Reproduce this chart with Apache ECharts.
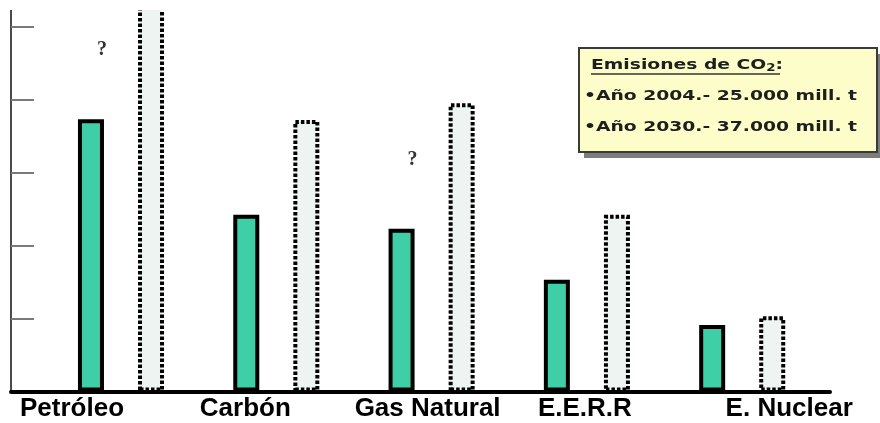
<!DOCTYPE html>
<html>
<head>
<meta charset="utf-8">
<script src="https://cdn.jsdelivr.net/npm/echarts@6/dist/echarts.min.js"></script>
<style>html,body{margin:0;padding:0;background:#fff}#c{width:880px;height:423px}</style>
</head>
<body>
<div id="c"></div>
<script>
// ---- data ----
const categories = ['Petróleo', 'Carbón', 'Gas Natural', 'E.E.R.R', 'E. Nuclear'];
const values2004 = [3.73, 2.42, 2.23, 1.53, 0.91];
const values2030 = [5.5, 3.72, 3.95, 2.42, 1.03];
const questionMarks = ['?', '', '?', '', ''];
const yTicks = [1, 2, 3, 4, 5];
const yMax = 5.226;
const legendTitle = 'Emisiones de CO';
const legendTitleSub = '2';
const legendTitleEnd = ':';
const legendLines = ['•Año 2004.- 25.000 mill. t', '•Año 2030.- 37.000 mill. t'];

// ---- layout helpers ----
const labelShift = [-49, -31, -4, -2, 47];
const rich = {};
labelShift.forEach((d, i) => {
  rich['l' + i] = { padding: d < 0 ? [0, -2 * d, 0, 0] : [0, 0, 0, 2 * d] };
});

const legendFont = 'bold 14px "DejaVu Sans"';
const cv = document.createElement('canvas').getContext('2d');
cv.font = legendFont;
const lineW = cv.measureText(legendLines[0]).width;
const sx = 273 / lineW;

const chart = echarts.init(document.getElementById('c'), null, { renderer: 'canvas' });

const option = {
  animation: false,
  backgroundColor: '#ffffff',
  grid: [
    { left: 43.35, right: 60.15, top: 10, bottom: 31.5 },
    { left: 11, right: 50, top: 10, bottom: 31.5 }
  ],
  xAxis: [
    {
      type: 'category', gridIndex: 0, data: categories,
      axisLine: { show: false }, axisTick: { show: false },
      axisLabel: {
        interval: 0, margin: 4,
        fontFamily: '"Liberation Sans", Arial, sans-serif', fontWeight: 'bold', fontSize: 26, color: '#000',
        formatter: (v, i) => '{l' + i + '|' + v + '}',
        rich: rich
      }
    },
    {
      type: 'value', gridIndex: 1, min: 0, max: 1,
      axisLine: { show: true, lineStyle: { color: '#000', width: 4 } },
      axisTick: { show: false }, axisLabel: { show: false }, splitLine: { show: false }
    }
  ],
  yAxis: [
    { type: 'value', gridIndex: 0, min: 0, max: yMax, show: false, splitLine: { show: false } },
    {
      type: 'value', gridIndex: 1, min: 0, max: yMax,
      axisLine: { show: true, lineStyle: { color: '#4a4a4a', width: 2 } },
      axisTick: { show: true, inside: true, length: 23, customValues: yTicks, lineStyle: { color: '#7a7a7a', width: 2 } },
      axisLabel: { show: false }, splitLine: { show: false }
    }
  ],
  series: [
    {
      type: 'bar', xAxisIndex: 0, yAxisIndex: 0,
      barWidth: 26, barGap: '131%',
      data: values2004,
      itemStyle: { color: '#3fcfa6', borderColor: '#000', borderWidth: 4 },
      label: {
        show: true, position: 'top', offset: [11, -54],
        formatter: p => questionMarks[p.dataIndex],
        fontFamily: '"Liberation Serif", "DejaVu Serif", serif', fontWeight: 'bold', fontSize: 20, color: '#333'
      }
    },
    {
      type: 'bar', xAxisIndex: 0, yAxisIndex: 0,
      barWidth: 26, clip: false,
      data: values2030,
      itemStyle: { color: '#eef4f1', borderColor: '#000', borderWidth: 4, borderType: [3.5, 2] }
    }
  ],
  graphic: [
    { type: 'rect', z: 100, shape: { x: 0, y: 0, width: 880, height: 10 }, style: { fill: '#fff' } },
    { type: 'rect', z: 100, shape: { x: 584, y: 54, width: 298, height: 104 }, style: { fill: '#7d7d7d' } },
    { type: 'rect', z: 101, shape: { x: 579, y: 48, width: 298, height: 104 }, style: { fill: '#fdfdc9', stroke: '#3a3a3a', lineWidth: 2 } },
    {
      type: 'text', z: 102, x: 591, y: 65, scaleX: sx,
      style: {
        text: legendTitle + '{sub|' + legendTitleSub + '}' + legendTitleEnd,
        font: legendFont, fill: '#1e1e1e', verticalAlign: 'middle',
        rich: { sub: { fontSize: 10, fontWeight: 'bold', fontFamily: 'DejaVu Sans', padding: [6, 0, 0, 0], fill: '#1e1e1e' } }
      }
    },
    { type: 'line', z: 102, shape: { x1: 591, y1: 74, x2: 780, y2: 74 }, style: { stroke: '#333', lineWidth: 1.5 } },
    { type: 'text', z: 102, x: 584, y: 96, scaleX: sx, style: { text: legendLines[0], font: legendFont, fill: '#1e1e1e', verticalAlign: 'middle' } },
    { type: 'text', z: 102, x: 584, y: 127, scaleX: sx, style: { text: legendLines[1], font: legendFont, fill: '#1e1e1e', verticalAlign: 'middle' } }
  ]
};
chart.setOption(option);
</script>
</body>
</html>
